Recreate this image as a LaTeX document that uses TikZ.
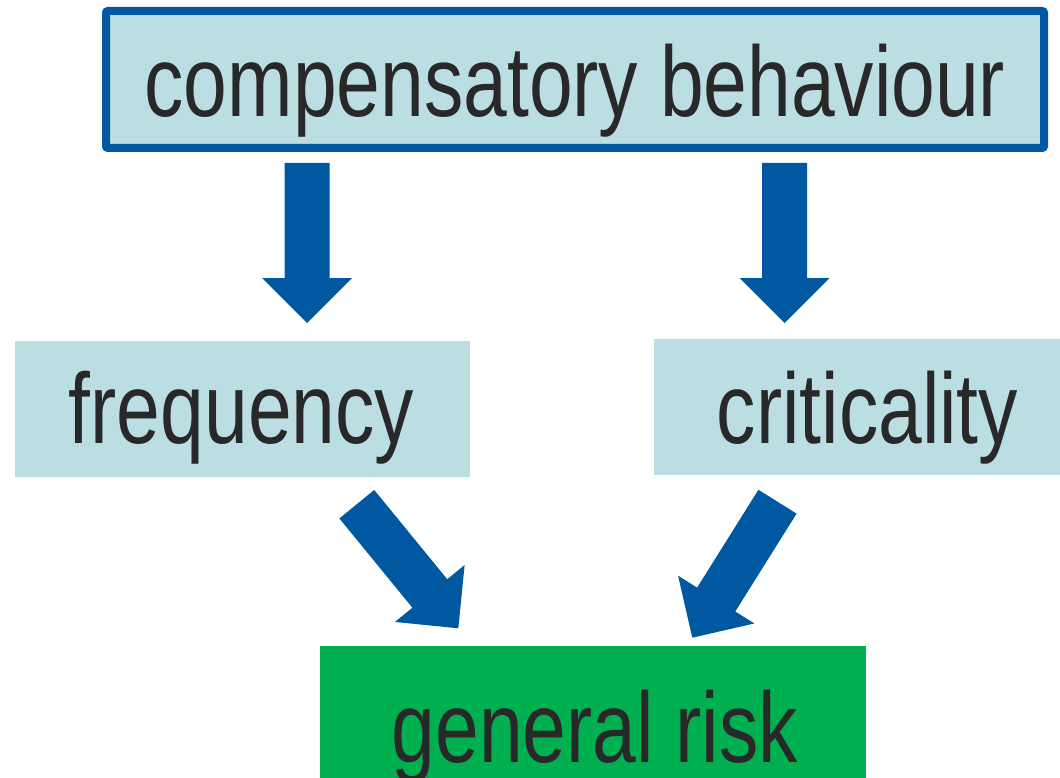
\documentclass[tikz,border=0pt]{standalone}
\usepackage{fontspec}
\setmainfont[FakeStretch=0.786]{Liberation Sans}
\usetikzlibrary{calc}
\definecolor{boxblue}{RGB}{186,222,226}
\definecolor{edgeblue}{RGB}{0,89,160}
\definecolor{riskgreen}{RGB}{0,176,80}
\definecolor{inkgrey}{RGB}{40,40,40}
\tikzset{
  panel/.style={fill=boxblue, draw=none, inner sep=0pt, outer sep=0pt, anchor=north west},
  headpanel/.style={fill=boxblue, draw=edgeblue, line width=8pt, rounded corners=2pt,
    inner sep=0pt, anchor=north west},
  riskpanel/.style={fill=riskgreen, draw=none, inner sep=0pt, outer sep=0pt, anchor=north west},
  lbl/.style={anchor=base, inner sep=0pt, text=inkgrey, font=\fontsize{100}{120}\selectfont},
  arrowfill/.style={fill=edgeblue},
}
% block arrow from #1 to #2: shaft 45 wide, head 90 wide and 45 long
\newcommand\flowarrow[2]{%
  \coordinate (#1-#2-neck) at ($(#2)!45pt!(#1)$);
  \fill[arrowfill] ($(#1)!22.5pt!90:(#2)$)
    -- ($(#1-#2-neck)!22.5pt!90:(#2)$)
    -- ($(#1-#2-neck)!45pt!90:(#2)$)
    -- (#2)
    -- ($(#1-#2-neck)!45pt!-90:(#2)$)
    -- ($(#1-#2-neck)!22.5pt!-90:(#2)$)
    -- ($(#1)!22.5pt!-90:(#2)$) -- cycle;}
\begin{document}
\begin{tikzpicture}[x=1pt,y=-1pt]
  \useasboundingbox (0,0) rectangle (1060,778);

  % boxes
  \node[headpanel, minimum width=938pt, minimum height=137pt] (comp) at (102,7) {};
  \node[panel, minimum width=455pt, minimum height=136pt] (freq) at (15,341) {};
  \node[panel, minimum width=406pt, minimum height=136pt] (crit) at (654,339) {};
  \node[riskpanel, minimum width=546pt, minimum height=132pt] (risk) at (320,646) {};

  % labels
  \node[lbl] (comp-text) at (575,117) {compensatory behaviour};
  \node[lbl] (freq-text) at (241.5,443) {frequency};
  \node[lbl] (crit-text) at (867.5,443) {criticality};
  \node[lbl] (risk-text) at (595,762) {general risk};

  % arrow ends
  \coordinate (cf-s) at (307,163);
  \coordinate (cf-e) at (307,323);
  \coordinate (cc-s) at (784.5,163);
  \coordinate (cc-e) at (784.5,323);
  \coordinate (fr-s) at (356.8,504.2);
  \coordinate (fr-e) at (458.3,628.3);
  \coordinate (cr-s) at (777.5,501.7);
  \coordinate (cr-e) at (692.3,637.7);

  \flowarrow{cf-s}{cf-e}
  \flowarrow{cc-s}{cc-e}
  \flowarrow{fr-s}{fr-e}
  \flowarrow{cr-s}{cr-e}
\end{tikzpicture}
\end{document}
